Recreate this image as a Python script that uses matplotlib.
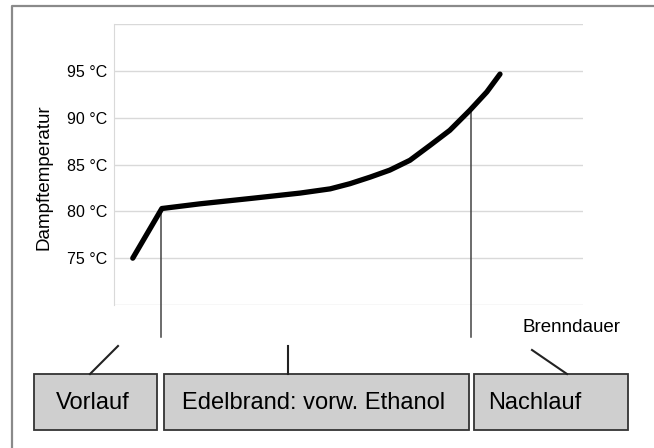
import matplotlib.pyplot as plt
from matplotlib.patches import Rectangle

plt.rcParams['font.family'] = ['Liberation Sans', 'DejaVu Sans']

# Dampftemperatur über die Brenndauer (Zeit in relativen Einheiten)
zeit = [4.0, 10.2, 18.3, 29.6, 39.7, 46.1, 50.3, 54.6, 58.8, 63.1, 67.4,
        71.6, 75.9, 79.5, 82.3]
temperatur = [75.0, 80.3, 80.8, 81.4, 81.95, 82.4, 82.95, 83.65, 84.4, 85.45,
              87.05, 88.65, 90.8, 92.75, 94.65]

# Grenzen der Fraktionen
schnitte = [10.0, 76.1]
schnitt_temp = [80.2, 90.8]
fraktionen = ["Vorlauf", "Edelbrand: vorw. Ethanol", "Nachlauf"]

y_ticks = [75, 80, 85, 90, 95]
y_labels = [f"{t} °C" for t in y_ticks]

W, H = 654, 448
fig = plt.figure(figsize=(W / 100, H / 100), dpi=100)

# pixel-based overlay for frame, boxes and connectors
deco = fig.add_axes([0, 0, 1, 1])
deco.set_xlim(0, W)
deco.set_ylim(H, 0)
deco.axis('off')
deco.plot([11.5, 11.5, W + 5], [H + 5, 6, 6], color='#8a8a8a', lw=1.6,
          clip_on=False)

ax = fig.add_axes([114 / W, 143 / H, 469 / W, 281 / H])
ax.set_xlim(0, 100)
ax.set_ylim(70, 100)
ax.set_yticks(y_ticks)
ax.set_yticklabels(y_labels, fontsize=11.5)
ax.set_xticks([])
ax.tick_params(axis='y', length=0, pad=5)
for y in [70, 75, 80, 85, 90, 95, 100]:
    ax.axhline(y, color='#d9d9d9', lw=1.0, zorder=0)
for s in ['top', 'right', 'bottom']:
    ax.spines[s].set_visible(False)
ax.spines['left'].set_color('#d9d9d9')
ax.set_ylabel("Dampftemperatur", fontsize=13.5)
ax.yaxis.set_label_coords(-0.132, 0.455)

ax.plot(zeit, temperatur, color='black', lw=3.8, solid_joinstyle='round',
        solid_capstyle='round', zorder=3)

# vertical separators reaching below the plot area
for x, t in zip(schnitte, schnitt_temp):
    ax.plot([x, x], [66.6, t], color='#444444', lw=1.1, clip_on=False, zorder=2)

fig.text(522 / W, 1 - 328 / H, "Brenndauer", fontsize=13.5, va='center', ha='left')

# Fraktionskästen
kaesten = [(34, 157), (164, 469), (474, 628)]
box_top, box_bot = 374, 430
for (x0, x1), name in zip(kaesten, fraktionen):
    deco.add_patch(Rectangle((x0, box_top), x1 - x0, box_bot - box_top,
                             fc='#cfcfcf', ec='#333333', lw=1.3))
    if name == "Nachlauf":
        deco.text(488, (box_top + box_bot) / 2 + 1, name, fontsize=17,
                  ha='left', va='center')
    else:
        deco.text((x0 + x1) / 2 - 3, (box_top + box_bot) / 2 + 1, name,
                  fontsize=17, ha='center', va='center')

# connectors from the time axis to the boxes
deco.plot([118, 90], [346, 374], color='#222222', lw=1.5)
deco.plot([288, 288], [346, 374], color='#222222', lw=1.5)
deco.plot([532, 567], [350, 374], color='#222222', lw=1.5)

fig.savefig("out.png", dpi=100)
